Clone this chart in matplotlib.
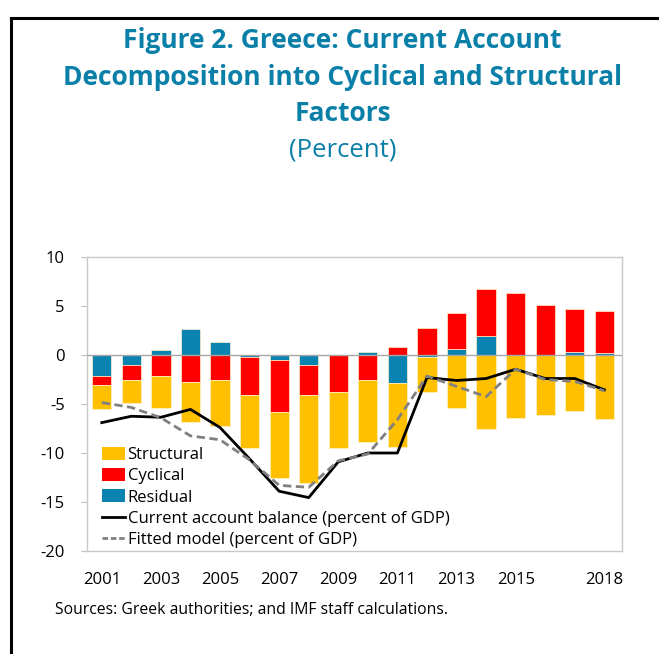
import numpy as np
import matplotlib
matplotlib.use('Agg')
import matplotlib.pyplot as plt
from matplotlib.patches import Patch
from matplotlib.lines import Line2D

plt.rcParams['font.family'] = ['Open Sans', 'DejaVu Sans']
plt.rcParams['axes.unicode_minus'] = False

years = list(range(2001, 2019))
# stacked from zero outward: residual, then cyclical, then structural
residual = [-2.1, -1.0, 0.5, 2.7, 1.3, -0.25, -0.55, -1.0, 0.0, 0.3, -2.85, -0.25, 0.6, 1.9, 0.0, 0.0, 0.3, 0.2]
cyclical = [-0.95, -1.55, -2.15, -2.75, -2.6, -3.85, -5.25, -3.05, -3.8, -2.55, 0.85, 2.75, 3.7, 4.85, 6.3, 5.15, 4.4, 4.3]
structural = [-2.45, -2.35, -3.3, -4.1, -4.6, -5.4, -6.7, -9.0, -5.7, -6.3, -6.5, -3.55, -5.45, -7.6, -6.45, -6.1, -5.7, -6.55]
current_account = [-6.9, -6.25, -6.35, -5.55, -7.4, -10.6, -13.9, -14.55, -10.9, -10.0, -10.0, -2.3, -2.6, -2.4, -1.45, -2.4, -2.4, -3.55]
fitted = [-4.85, -5.35, -6.4, -8.25, -8.65, -10.7, -13.3, -13.5, -10.8, -10.1, -6.6, -2.15, -3.2, -4.25, -1.45, -2.5, -2.7, -3.65]
tick_years = [2001, 2003, 2005, 2007, 2009, 2011, 2013, 2015, 2018]

c_struct = '#FFC000'
c_cyc = '#FF0000'
c_res = '#0B83B0'
title_col = '#0A7FA8'

fig = plt.figure(figsize=(6.59, 6.54), dpi=100)

# outer border lines (left and top)
fig.add_artist(Line2D([0.017, 0.017], [0.0, 0.972], color='black', lw=2.2, transform=fig.transFigure))
fig.add_artist(Line2D([0.017, 1.0], [0.972, 0.972], color='black', lw=2.2, transform=fig.transFigure))

fig.text(0.52, 0.958, 'Figure 2. Greece: Current Account\nDecomposition into Cyclical and Structural\nFactors',
         ha='center', va='top', fontsize=19, fontweight='bold', color=title_col, linespacing=1.45)
fig.text(0.52, 0.770, '(Percent)', ha='center', va='center', fontsize=18.5, color=title_col)

ax = fig.add_axes([0.132, 0.1575, 0.812, 0.4495])
x = np.arange(len(years))
w = 0.65

pos_base = np.zeros(len(years))
neg_base = np.zeros(len(years))
for vals, col in [(residual, c_res), (cyclical, c_cyc), (structural, c_struct)]:
    v = np.array(vals)
    base = np.where(v >= 0, pos_base, neg_base)
    ax.bar(x, v, w, bottom=base, color=col, edgecolor='#FFF2CC', linewidth=0.5, zorder=2)
    pos_base = pos_base + np.where(v >= 0, v, 0)
    neg_base = neg_base + np.where(v < 0, v, 0)

ax.axhline(0, color='#A6A6A6', lw=1.0, zorder=3)
ax.plot(x, current_account, color='black', lw=2.0, zorder=4)
ax.plot(x, fitted, color='#808080', lw=2.0, ls=(0, (3, 1.6)), zorder=5)

ax.set_xlim(-0.5, 17.6)
ax.set_ylim(-20, 10)
ax.set_yticks(range(-20, 11, 5))
ax.set_xticks([years.index(y) for y in tick_years])
ax.set_xticklabels([str(y) for y in tick_years])
ax.tick_params(axis='x', length=0, pad=15, labelsize=12)
ax.tick_params(axis='y', length=4, color='#BFBFBF', pad=12, labelsize=12)
for s in ax.spines.values():
    s.set_color('#C8C8C8')
    s.set_linewidth(1.0)

handles = [Patch(facecolor=c_struct), Patch(facecolor=c_cyc), Patch(facecolor=c_res),
           Line2D([], [], color='black', lw=2.0),
           Line2D([], [], color='#808080', lw=2.0, ls=(0, (2, 1)))]
labels = ['Structural', 'Cyclical', 'Residual', 'Current account balance (percent of GDP)',
          'Fitted model (percent of GDP)']
ax.legend(handles, labels, loc='lower left', bbox_to_anchor=(0.012, -0.018), frameon=False,
          fontsize=12, labelspacing=0.3, handlelength=1.4, handleheight=0.8,
          handletextpad=0.15, borderpad=0.3, borderaxespad=0.2)

fig.text(0.083, 0.067, 'Sources: Greek authorities; and IMF staff calculations.', fontsize=11.3, va='center')

fig.savefig('out.png', dpi=100)
